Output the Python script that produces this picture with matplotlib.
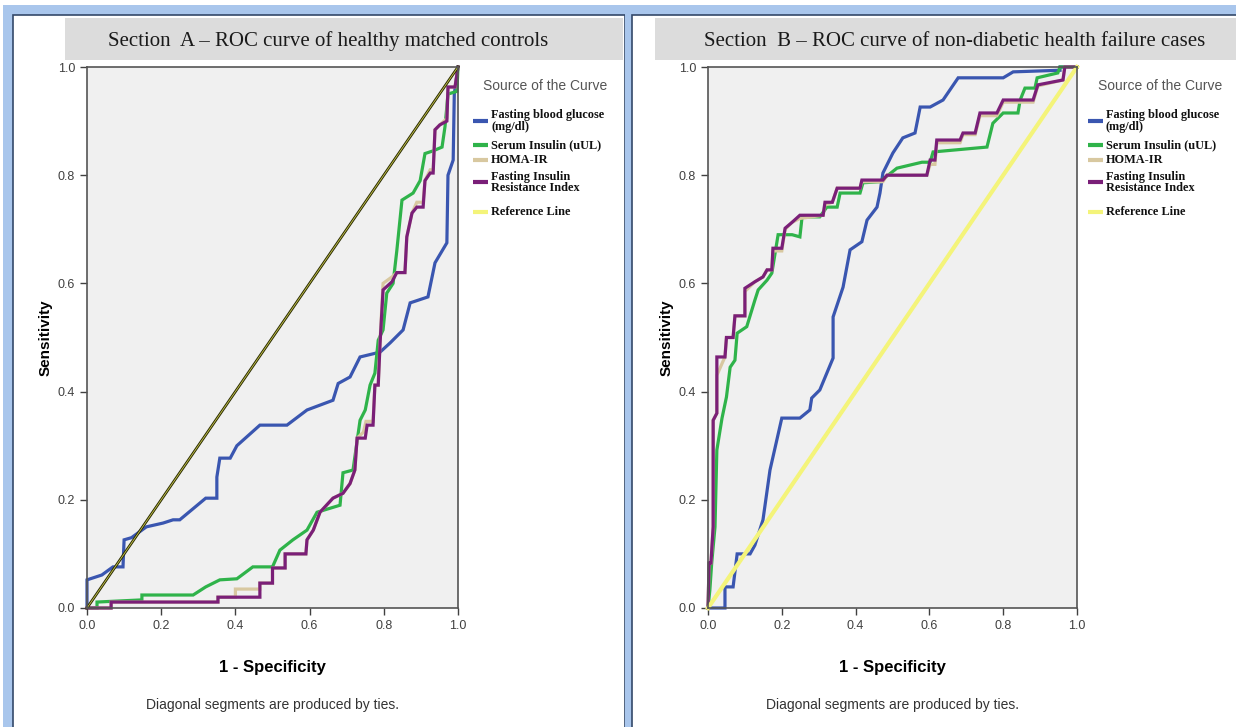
import numpy as np
import matplotlib
matplotlib.use("Agg")
from matplotlib import pyplot as plt
from matplotlib.patches import Rectangle
from matplotlib.lines import Line2D

# ---- data ----
# Section A - healthy matched controls
a_fbg_x = [0, 0, 0.04, 0.07, 0.097, 0.10, 0.12, 0.16, 0.205, 0.232, 0.25, 0.32, 0.35, 0.35, 0.358, 0.386,
           0.404, 0.466, 0.539, 0.593, 0.663, 0.677, 0.709, 0.736, 0.79, 0.817, 0.852, 0.871, 0.919, 0.938,
           0.97, 0.973, 0.987, 0.99, 1.0]
a_fbg_y = [0, 0.052, 0.061, 0.076, 0.076, 0.126, 0.13, 0.15, 0.157, 0.163, 0.163, 0.203, 0.203, 0.242, 0.277,
           0.277, 0.30, 0.338, 0.338, 0.366, 0.384, 0.415, 0.427, 0.464, 0.473, 0.49, 0.514, 0.564, 0.575, 0.638,
           0.675, 0.80, 0.828, 0.95, 1.0]

a_ins_x = [0, 0.027, 0.027, 0.148, 0.148, 0.286, 0.32, 0.358, 0.404, 0.447, 0.50, 0.52, 0.555, 0.593, 0.62,
           0.682, 0.69, 0.717, 0.736, 0.75, 0.763, 0.776, 0.785, 0.798, 0.808, 0.825, 0.835, 0.849, 0.879, 0.898,
           0.911, 0.933, 0.957, 0.965, 0.973, 0.997, 1.0]
a_ins_y = [0, 0, 0.011, 0.015, 0.024, 0.024, 0.039, 0.052, 0.054, 0.076, 0.076, 0.107, 0.126, 0.144, 0.177,
           0.19, 0.25, 0.255, 0.347, 0.366, 0.412, 0.434, 0.495, 0.514, 0.582, 0.60, 0.66, 0.754, 0.767, 0.79,
           0.84, 0.845, 0.852, 0.89, 0.95, 0.955, 1.0]

a_firi_x = [0, 0.065, 0.065, 0.353, 0.353, 0.466, 0.466, 0.50, 0.50, 0.534, 0.534, 0.59, 0.593, 0.61, 0.628,
            0.663, 0.69, 0.709, 0.722, 0.728, 0.75, 0.755, 0.771, 0.776, 0.785, 0.79, 0.798, 0.822, 0.835, 0.857,
            0.862, 0.876, 0.889, 0.906, 0.911, 0.925, 0.933, 0.938, 0.951, 0.97, 0.973, 0.992, 1.0]
a_firi_y = [0, 0, 0.011, 0.011, 0.02, 0.02, 0.046, 0.046, 0.074, 0.074, 0.10, 0.10, 0.126, 0.144, 0.177,
            0.203, 0.212, 0.23, 0.255, 0.314, 0.314, 0.338, 0.338, 0.412, 0.412, 0.49, 0.588, 0.603, 0.62, 0.62,
            0.686, 0.73, 0.741, 0.741, 0.79, 0.804, 0.804, 0.884, 0.893, 0.90, 0.963, 0.963, 1.0]

a_homa_x = [0, 0.065, 0.065, 0.353, 0.353, 0.40, 0.40, 0.466, 0.466, 0.50, 0.50, 0.534, 0.534, 0.59, 0.593,
            0.61, 0.628, 0.663, 0.69, 0.709, 0.722, 0.728, 0.745, 0.752, 0.771, 0.776, 0.785, 0.79, 0.798, 0.822,
            0.835, 0.857, 0.862, 0.876, 0.889, 0.906, 0.911, 0.925, 0.933, 0.938, 0.951, 0.97, 0.973, 0.992, 1.0]
a_homa_y = [0, 0, 0.011, 0.011, 0.02, 0.02, 0.035, 0.035, 0.046, 0.046, 0.074, 0.074, 0.10, 0.10, 0.126,
            0.144, 0.177, 0.203, 0.212, 0.23, 0.255, 0.314, 0.325, 0.345, 0.345, 0.412, 0.412, 0.495, 0.60,
            0.612, 0.62, 0.62, 0.686, 0.73, 0.75, 0.75, 0.79, 0.81, 0.81, 0.884, 0.893, 0.905, 0.963, 0.963, 1.0]

# Section B - non-diabetic health failure cases
b_fbg_x = [0, 0.046, 0.046, 0.068, 0.079, 0.114, 0.127, 0.149, 0.168, 0.20, 0.249, 0.276, 0.281, 0.303, 0.339,
           0.339, 0.366, 0.385, 0.417, 0.431, 0.458, 0.466, 0.474, 0.501, 0.528, 0.561, 0.575, 0.602, 0.637,
           0.678, 0.80, 0.827, 0.954, 0.954, 1.0]
b_fbg_y = [0, 0, 0.039, 0.039, 0.10, 0.10, 0.116, 0.163, 0.255, 0.351, 0.351, 0.366, 0.388, 0.403, 0.462,
           0.538, 0.593, 0.662, 0.677, 0.717, 0.741, 0.767, 0.804, 0.841, 0.869, 0.878, 0.926, 0.926, 0.939,
           0.98, 0.98, 0.991, 0.994, 1.0, 1.0]

b_ins_x = [0, 0.005, 0.01, 0.019, 0.024, 0.038, 0.05, 0.06, 0.073, 0.079, 0.105, 0.127, 0.136, 0.16, 0.173,
           0.19, 0.228, 0.249, 0.255, 0.303, 0.322, 0.35, 0.358, 0.412, 0.42, 0.466, 0.512, 0.58, 0.602, 0.61,
           0.756, 0.772, 0.80, 0.84, 0.846, 0.859, 0.886, 0.892, 0.948, 0.954, 1.0]
b_ins_y = [0, 0.033, 0.083, 0.15, 0.292, 0.351, 0.39, 0.445, 0.458, 0.508, 0.52, 0.569, 0.588, 0.606, 0.619,
           0.69, 0.69, 0.686, 0.723, 0.723, 0.741, 0.741, 0.767, 0.767, 0.786, 0.788, 0.813, 0.824, 0.824, 0.843,
           0.852, 0.896, 0.915, 0.915, 0.939, 0.961, 0.961, 0.98, 0.989, 1.0, 1.0]

b_firi_x = [0, 0.003, 0.008, 0.014, 0.014, 0.024, 0.024, 0.046, 0.05, 0.068, 0.073, 0.10, 0.10, 0.127, 0.149,
            0.16, 0.173, 0.176, 0.20, 0.209, 0.228, 0.249, 0.312, 0.317, 0.337, 0.35, 0.412, 0.417, 0.474, 0.485,
            0.593, 0.602, 0.615, 0.62, 0.683, 0.691, 0.724, 0.737, 0.783, 0.80, 0.881, 0.894, 0.962, 0.967, 1.0]
b_firi_y = [0, 0.083, 0.083, 0.15, 0.347, 0.36, 0.464, 0.464, 0.50, 0.50, 0.54, 0.54, 0.591, 0.603, 0.612,
            0.625, 0.625, 0.665, 0.665, 0.702, 0.713, 0.726, 0.726, 0.75, 0.75, 0.776, 0.776, 0.791, 0.791, 0.80,
            0.80, 0.828, 0.828, 0.865, 0.865, 0.878, 0.878, 0.915, 0.915, 0.939, 0.939, 0.967, 0.976, 1.0, 1.0]

b_homa_x = [0, 0.003, 0.008, 0.014, 0.014, 0.024, 0.024, 0.04, 0.046, 0.05, 0.068, 0.073, 0.10, 0.10, 0.127,
            0.149, 0.16, 0.173, 0.176, 0.20, 0.209, 0.228, 0.249, 0.312, 0.317, 0.337, 0.35, 0.412, 0.417, 0.474,
            0.485, 0.593, 0.602, 0.615, 0.62, 0.683, 0.691, 0.724, 0.737, 0.783, 0.80, 0.881, 0.894, 0.962,
            0.967, 1.0]
b_homa_y = [0, 0.083, 0.083, 0.15, 0.347, 0.36, 0.43, 0.455, 0.464, 0.50, 0.50, 0.54, 0.54, 0.585, 0.603,
            0.612, 0.625, 0.625, 0.66, 0.66, 0.70, 0.713, 0.72, 0.726, 0.745, 0.75, 0.776, 0.776, 0.788, 0.788,
            0.80, 0.80, 0.82, 0.82, 0.86, 0.86, 0.875, 0.875, 0.91, 0.91, 0.935, 0.935, 0.965, 0.976, 1.0, 1.0]

ref_x = [0, 1]
ref_y = [0, 1]

ticks = [0.0, 0.2, 0.4, 0.6, 0.8, 1.0]
tick_labels = ['0.0', '0.2', '0.4', '0.6', '0.8', '1.0']

c_fbg = '#3a56b0'
c_ins = '#2fb34a'
c_homa = '#d8c8a0'
c_firi = '#7a1f78'
c_ref = '#f4f47a'

legend_items = [('Fasting blood glucose\n(mg/dl)', c_fbg),
                ('Serum Insulin (uUL)', c_ins),
                ('HOMA-IR', c_homa),
                ('Fasting Insulin\nResistance Index', c_firi),
                ('Reference Line', c_ref)]

W, H = 1236, 727
fig = plt.figure(figsize=(W / 100, H / 100), dpi=100)
fig.patch.set_facecolor('white')


def px_rect(x0, y0, x1, y1, **kw):
    # rectangle in pixel coords (origin top-left), kept behind the axes
    r = Rectangle((x0 / W, 1 - y1 / H), (x1 - x0) / W, (y1 - y0) / H,
                  transform=fig.transFigure, zorder=-10, **kw)
    fig.add_artist(r)


# window-like frames
px_rect(3, 5, 625, 740, facecolor='#a9c6ec', edgecolor='none')
px_rect(13, 15, 625, 740, facecolor='white', edgecolor='#34496a', lw=1.2)
px_rect(625, 5, 1245, 740, facecolor='#a9c6ec', edgecolor='none')
px_rect(632, 15, 1245, 740, facecolor='white', edgecolor='#34496a', lw=1.2)

# title bars
px_rect(65, 18, 623, 60, facecolor='#dcdcdc', edgecolor='none')
px_rect(655, 18, 1245, 60, facecolor='#dcdcdc', edgecolor='none')

serif = 'Liberation Serif'
narrow = ['Liberation Sans Narrow', 'Liberation Sans', 'DejaVu Sans']

fig.text(328 / W, 1 - 41 / H, 'Section  A – ROC curve of healthy matched controls',
         family=serif, fontsize=15, ha='center', va='center', color='#1a1a1a')
fig.text(955 / W, 1 - 41 / H, 'Section  B – ROC curve of non-diabetic health failure cases',
         family=serif, fontsize=15, ha='center', va='center', color='#1a1a1a')


def draw_panel(left_px, right_px, curves, ref_kw, leg_x):
    ax = fig.add_axes([left_px / W, 1 - 608 / H, (right_px - left_px) / W, 541 / H])
    ax.set_facecolor('#f0f0f0')
    for xs, ys, col, lw in curves:
        ax.plot(xs, ys, color=col, lw=lw, solid_joinstyle='miter', clip_on=False)
    for kw in ref_kw:
        ax.plot(ref_x, ref_y, clip_on=False, **kw)
    ax.set_xlim(0, 1)
    ax.set_ylim(0, 1)
    ax.set_xticks(ticks)
    ax.set_yticks(ticks)
    ax.set_xticklabels(tick_labels, family=narrow, fontsize=9, color='#404040')
    ax.set_yticklabels(tick_labels, family=narrow, fontsize=9, color='#404040')
    ax.tick_params(direction='out', length=5, width=1, color='#404040')
    for s in ax.spines.values():
        s.set_color('#555555')
        s.set_linewidth(1.2)
    ax.set_xlabel('1 - Specificity', family=narrow, fontsize=12, fontweight='bold', labelpad=20)
    ax.set_ylabel('Sensitivity', family='Liberation Sans', fontsize=11, fontweight='bold', labelpad=4)
    mid = (left_px + right_px) / 2
    fig.text(mid / W, 1 - 705 / H, 'Diagonal segments are produced by ties.',
             family=narrow, fontsize=10, ha='center', va='center', color='#333333')

    # legend drawn by hand
    fig.text((leg_x + 10) / W, 1 - 86 / H, 'Source of the Curve', family=narrow,
             fontsize=10, color='#555555', va='center')
    rows = [(121, 115, 127), (145, 145, None), (160, 160, None), (182, 177, 188), (212, 212, None)]
    for (label, col), (ly, t1, t2) in zip(legend_items, rows):
        fig.add_artist(Line2D([leg_x / W, (leg_x + 15) / W], [1 - ly / H, 1 - ly / H],
                              transform=fig.transFigure, color=col, lw=3, solid_capstyle='butt'))
        parts = label.split('\n')
        fig.text((leg_x + 18) / W, 1 - t1 / H, parts[0], family=serif, fontsize=8.8,
                 fontweight='bold', va='center', color='#111111')
        if t2 is not None:
            fig.text((leg_x + 18) / W, 1 - t2 / H, parts[1], family=serif, fontsize=8.8,
                     fontweight='bold', va='center', color='#111111')
    return ax


draw_panel(87, 458,
           [(a_fbg_x, a_fbg_y, c_fbg, 2.3),
            (a_ins_x, a_ins_y, c_ins, 2.3),
            (a_homa_x, a_homa_y, c_homa, 2.3),
            (a_firi_x, a_firi_y, c_firi, 2.3)],
           [dict(color='#2a2a00', lw=2.0), dict(color='#c8c850', lw=0.6)],
           473)

draw_panel(708, 1077,
           [(b_fbg_x, b_fbg_y, c_fbg, 2.3),
            (b_ins_x, b_ins_y, c_ins, 2.3),
            (b_homa_x, b_homa_y, c_homa, 2.3),
            (b_firi_x, b_firi_y, c_firi, 2.3)],
           [dict(color=c_ref, lw=3.0)],
           1088)

fig.savefig('out.png', dpi=100, facecolor='white')
